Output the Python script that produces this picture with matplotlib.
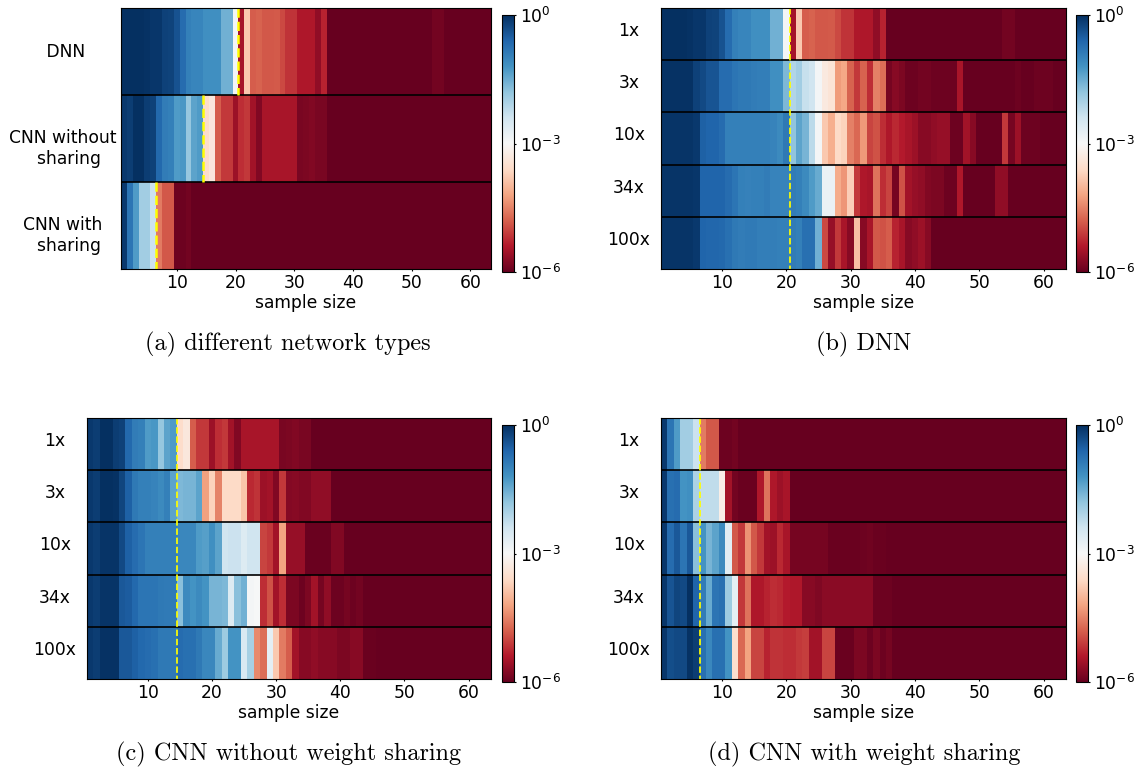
import numpy as np
import matplotlib
matplotlib.use('Agg')
import matplotlib.pyplot as plt
from matplotlib.colors import LogNorm
from matplotlib.cm import ScalarMappable

# log10 of the value in each sample size bin (1..63)
dnn_1x = [-0.02, -0.02, -0.02, -0.02, -0.03, -0.08, -0.08, -0.2, -0.22, -0.38, -0.68, -0.95, -1.02, -1.02, -1.15, -1.15, -1.15, -1.55, -1.55, -2.95, -5.5, -3.8, -4.82, -4.77, -4.87, -4.87, -4.84, -4.97, -5.17, -5.17, -5.42, -5.42, -5.42, -5.67, -5.32, -6, -6, -6, -6, -6, -6, -6, -6, -6, -6, -6, -6, -6, -6, -6, -6, -6, -6, -5.9, -5.9, -6, -6, -6, -6, -6, -6, -6, -6]
dnn_3x = [-0.03, -0.03, -0.03, -0.03, -0.03, -0.2, -0.3, -0.42, -0.42, -0.7, -0.7, -0.8, -0.85, -0.85, -0.9, -0.92, -0.92, -1.15, -1.15, -1.65, -2.1, -1.95, -2.3, -2.4, -2.95, -3.3, -3.4, -4.27, -4.17, -4.77, -5.12, -4.77, -5.22, -4.52, -4.67, -5.87, -5.72, -5.82, -5.95, -5.95, -5.9, -5.9, -5.95, -5.95, -5.95, -5.95, -5.47, -6, -6, -6, -6, -6, -6, -6, -6, -5.95, -6, -6, -5.95, -5.95, -5.95, -6, -6]
dnn_10x = [-0.05, -0.05, -0.05, -0.05, -0.05, -0.1, -0.55, -0.6, -0.6, -0.7, -0.95, -0.95, -0.95, -0.95, -0.95, -0.95, -0.95, -1.0, -1.1, -0.85, -1.8, -1.4, -1.6, -2.2, -2.95, -3.8, -4.1, -3.6, -3.7, -4.52, -4.72, -4.3, -5.02, -4.92, -5.22, -5.42, -5.27, -5.37, -5.47, -5.57, -5.72, -5.72, -5.67, -5.62, -5.62, -5.93, -5.93, -5.52, -5.72, -6, -6, -6, -6, -5.12, -5.87, -5.57, -5.95, -5.95, -5.95, -6, -6, -6, -6]
dnn_34x = [-0.05, -0.05, -0.05, -0.05, -0.05, -0.08, -0.6, -0.6, -0.6, -0.6, -0.7, -0.8, -0.95, -0.98, -0.95, -0.95, -0.9, -1.0, -1.0, -1.0, -0.9, -0.95, -1.1, -1.3, -1.5, -2.8, -2.8, -4.12, -4.32, -3.75, -5.12, -5.42, -5.47, -4.62, -5.22, -5.02, -5.87, -4.92, -5.52, -5.62, -5.67, -5.77, -5.82, -5.82, -5.95, -5.95, -5.42, -6, -6, -6, -6, -6, -5.67, -5.67, -6, -6, -6, -6, -6, -6, -6, -6, -6]
dnn_100x = [-0.05, -0.05, -0.05, -0.05, -0.05, -0.1, -0.6, -0.62, -0.62, -0.65, -0.75, -0.85, -0.9, -0.88, -0.88, -0.92, -0.92, -0.92, -0.95, -0.95, -0.9, -0.95, -0.75, -0.75, -1.55, -4.97, -5.62, -5.12, -5.47, -5.72, -3.9, -5.72, -5.47, -4.87, -4.92, -4.82, -5.32, -5.47, -5.72, -5.67, -5.57, -5.72, -6, -6, -6, -6, -6, -6, -6, -6, -6, -6, -6, -6, -6, -6, -6, -6, -6, -6, -6, -6, -6]

cnn_1x = [-0.1, -0.15, -0.02, -0.02, -0.15, -0.2, -0.65, -0.9, -0.95, -1.3, -1.25, -1.85, -1.4, -1.3, -3.55, -3.35, -4.82, -5.12, -5.12, -5.57, -5.22, -5.12, -5.52, -5.77, -5.47, -5.47, -5.47, -5.47, -5.47, -5.47, -5.85, -5.82, -5.77, -5.85, -5.85, -6, -6, -6, -6, -6, -6, -6, -6, -6, -6, -6, -6, -6, -6, -6, -6, -6, -6, -6, -6, -6, -6, -6, -6, -6, -6, -6, -6]
cnn_3x = [-0.1, -0.15, -0.02, -0.02, -0.03, -0.25, -0.55, -0.85, -0.95, -0.95, -1.0, -1.1, -0.95, -1.4, -1.65, -1.6, -1.6, -1.4, -4.22, -3.7, -4.5, -3.6, -3.6, -3.6, -3.85, -5.27, -5.17, -5.57, -5.52, -5.77, -5.12, -5.75, -5.72, -5.77, -5.77, -5.67, -5.67, -5.67, -6, -6, -6, -6, -6, -6, -6, -6, -6, -6, -6, -6, -6, -6, -6, -6, -6, -6, -6, -6, -6, -6, -6, -6, -6]
cnn_10x = [-0.1, -0.15, -0.05, -0.05, -0.05, -0.3, -0.55, -0.7, -0.8, -0.95, -0.95, -0.95, -0.95, -0.95, -1.05, -1.05, -1.05, -1.3, -1.35, -1.15, -1.4, -2.4, -2.35, -2.35, -2.6, -2.4, -2.4, -5.02, -5.12, -5.52, -4.2, -5.62, -5.62, -5.62, -5.97, -5.97, -5.97, -5.97, -5.77, -5.77, -6, -6, -6, -6, -6, -6, -6, -6, -6, -6, -6, -6, -6, -6, -6, -6, -6, -6, -6, -6, -6, -6, -6]
cnn_34x = [-0.1, -0.15, -0.05, -0.05, -0.05, -0.45, -0.5, -0.65, -0.8, -0.8, -0.82, -0.85, -0.88, -0.88, -1.75, -1.1, -1.2, -1.1, -1.2, -1.6, -1.6, -1.65, -2.6, -1.75, -1.55, -2.95, -3.0, -5.22, -4.92, -5.52, -5.22, -5.82, -5.82, -5.93, -5.82, -5.52, -5.87, -5.67, -5.93, -5.95, -5.87, -5.95, -5.9, -6, -6, -6, -6, -6, -6, -6, -6, -6, -6, -6, -6, -6, -6, -6, -6, -6, -6, -6, -6]
cnn_100x = [-0.1, -0.15, -0.03, -0.03, -0.03, -0.45, -0.45, -0.55, -0.65, -0.7, -0.75, -0.85, -0.85, -0.85, -0.7, -0.75, -0.75, -0.85, -1.05, -1.05, -1.5, -1.9, -1.2, -1.2, -2.55, -2.0, -4.45, -4.67, -2.7, -3.8, -4.57, -4.82, -5.52, -5.72, -5.72, -5.67, -5.72, -5.72, -5.72, -5.82, -5.82, -5.72, -5.72, -5.97, -5.97, -6, -6, -6, -6, -6, -6, -6, -6, -6, -6, -6, -6, -6, -6, -6, -6, -6, -6]

cws_1x = [-0.1, -0.8, -1.3, -1.95, -1.95, -2.35, -4.57, -4.87, -4.87, -5.93, -5.93, -5.9, -6, -6, -6, -6, -6, -6, -6, -6, -6, -6, -6, -6, -6, -6, -6, -6, -6, -6, -6, -6, -6, -6, -6, -6, -6, -6, -6, -6, -6, -6, -6, -6, -6, -6, -6, -6, -6, -6, -6, -6, -6, -6, -6, -6, -6, -6, -6, -6, -6, -6, -6]
cws_3x = [-0.1, -0.75, -0.7, -1.2, -1.15, -2.05, -2.25, -2.25, -2.25, -3.2, -5.52, -5.9, -5.97, -5.97, -5.97, -5.42, -4.62, -5.42, -5.57, -5.47, -6, -6, -6, -6, -6, -6, -6, -6, -6, -6, -6, -6, -6, -6, -6, -6, -6, -6, -6, -6, -6, -6, -6, -6, -6, -6, -6, -6, -6, -6, -6, -6, -6, -6, -6, -6, -6, -6, -6, -6, -6, -6, -6]
cws_10x = [-0.08, -0.7, -0.45, -0.8, -0.45, -1.75, -1.2, -1.6, -1.4, -1.1, -2.65, -4.87, -5.12, -4.35, -4.87, -5.12, -5.52, -5.57, -5.27, -5.47, -5.88, -5.88, -5.88, -5.88, -5.88, -5.88, -5.97, -5.97, -5.97, -5.97, -5.97, -5.95, -5.92, -5.97, -5.97, -6, -6, -6, -6, -6, -6, -6, -6, -6, -6, -6, -6, -6, -6, -6, -6, -6, -6, -6, -6, -6, -6, -6, -6, -6, -6, -6, -6]
cws_34x = [-0.08, -0.4, -0.25, -0.3, -0.02, -0.6, -0.9, -1.5, -0.8, -0.75, -1.9, -2.7, -5.12, -4.62, -5.42, -5.42, -5.32, -5.22, -5.27, -5.37, -5.42, -5.42, -5.72, -5.72, -5.8, -5.7, -5.7, -5.7, -5.7, -5.7, -5.7, -5.7, -5.7, -5.95, -5.95, -5.95, -6, -6, -6, -6, -6, -6, -6, -6, -6, -6, -6, -6, -6, -6, -6, -6, -6, -6, -6, -6, -6, -6, -6, -6, -6, -6, -6]
cws_100x = [-0.08, -0.35, -0.3, -0.3, -0.03, -0.15, -0.75, -1.05, -0.75, -0.75, -1.2, -3.5, -4.72, -4.2, -5.02, -5.02, -5.32, -5.17, -5.17, -5.22, -5.22, -5.12, -5.07, -5.52, -5.52, -5.02, -5.02, -5.97, -5.97, -5.97, -5.82, -5.82, -5.93, -5.82, -5.95, -5.87, -6, -6, -6, -6, -6, -6, -6, -6, -6, -6, -6, -6, -6, -6, -6, -6, -6, -6, -6, -6, -6, -6, -6, -6, -6, -6, -6]

width_labels = ['1x', '3x', '10x', '34x', '100x']
type_labels = [' DNN', 'CNN without\n  sharing', 'CNN with\n  sharing']
critical_size = [20.5, 14.5, 6.5]

W, H = 1139, 767
fig = plt.figure(figsize=(W / 100, H / 100), dpi=100)
norm = LogNorm(vmin=1e-6, vmax=1)
cmap = 'RdBu'


def px_axes(left, top, right, bottom):
    return fig.add_axes([left / W, 1 - bottom / H, (right - left) / W, (bottom - top) / H])


def draw_panel(box, rows, labels, label_x, label_shift, cbar_x, lines, line_w, caption, caption_x, caption_y):
    ax = px_axes(*box)
    vals = 10.0 ** np.array(rows)
    n = len(rows)
    row_h = (box[3] - box[1]) / n
    ax.pcolormesh(np.arange(vals.shape[1] + 1) + 0.5, np.arange(n + 1), vals, cmap=cmap, norm=norm)
    ax.set_xlim(0.5, 63.5)
    ax.set_ylim(n, 0)
    for i in range(1, n):
        ax.axhline(i, color='k', lw=1.2)
    for x, y0, y1 in lines:
        ax.plot([x, x], [y0, y1], color='yellow', ls='--', lw=line_w)
    ax.set_xticks([10, 20, 30, 40, 50, 60])
    # labels do not sit exactly on the row centres in the original
    ax.set_yticks(np.arange(n) + 0.5 + np.array(label_shift) / row_h)
    ax.set_yticklabels(labels, ha='center', ma='center', linespacing=1.2)
    ax.tick_params(axis='both', labelsize=12.3)
    ax.tick_params(axis='x', length=1.5, pad=2)
    ax.tick_params(axis='y', length=0, pad=(box[0] - label_x) * 0.72)
    ax.set_xlabel('sample size', fontsize=12.3, labelpad=1.5)
    for s in ax.spines.values():
        s.set_linewidth(0.8)

    cax = px_axes(cbar_x, box[1] + 7, cbar_x + 12, box[3] + 3)
    cb = fig.colorbar(ScalarMappable(norm=norm, cmap=cmap), cax=cax, ticks=[1e-6, 1e-3, 1])
    cb.minorticks_off()
    cax.tick_params(labelsize=12.3, length=1.5, pad=2.8)
    fig.text(caption_x / W, 1 - caption_y / H, caption, family='cmr10', fontsize=17.5,
             ha='center', va='center')


draw_panel((121, 8, 491, 269), [dnn_1x, cnn_1x, cws_1x], type_labels, 63, [-1.5, 6.25, 6.5], 502,
           [(critical_size[0], 0, 1), (critical_size[1], 1, 2), (critical_size[2], 2, 3)], 1.8,
           '(a) different network types', 288, 344)
draw_panel((661, 8, 1066, 269), [dnn_1x, dnn_3x, dnn_10x, dnn_34x, dnn_100x], width_labels, 629, [-5] * 5, 1076,
           [(critical_size[0], 0, 5)], 1.25, '(b) DNN', 864, 344)
draw_panel((87, 418, 491, 679), [cnn_1x, cnn_3x, cnn_10x, cnn_34x, cnn_100x], width_labels, 55, [-5] * 5, 502,
           [(critical_size[1], 0, 5)], 1.25, '(c) CNN without weight sharing', 288.5, 754)
draw_panel((661, 418, 1066, 679), [cws_1x, cws_3x, cws_10x, cws_34x, cws_100x], width_labels, 629, [-5] * 5, 1076,
           [(critical_size[2], 0, 5)], 1.25, '(d) CNN with weight sharing', 864, 754)

fig.savefig('out.png', dpi=100)
